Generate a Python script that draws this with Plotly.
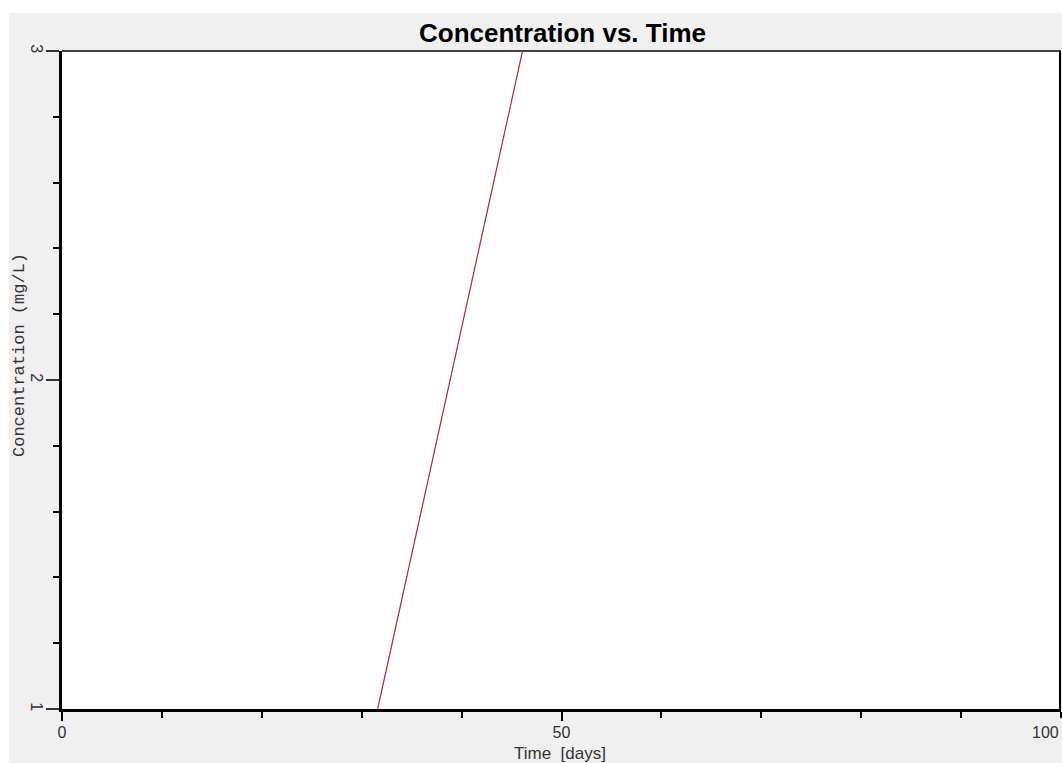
import plotly.graph_objects as go

# ---- data ----
time_days = [31.6, 46.1]
concentration = [1.0, 3.0]
x_tick_vals = [0, 50, 100]
x_tick_text = ["0", "50", "100"]
y_tick_vals = [1, 2, 3]
y_tick_text = ["1", "2", "3"]
title_text = "Concentration vs. Time"
x_title = "Time  [days]"
y_title = "Concentration (mg/L)"

W, H = 1062, 763
L, R, T, B = 62, 1, 51, 54
pw, ph = W - L - R, H - T - B

def px_to_paper_x(px):
    return (px - L) / pw

def px_to_paper_y(py):
    return (H - B - py) / ph

fig = go.Figure()
fig.add_trace(go.Scatter(
    x=time_days, y=concentration, mode="lines",
    line=dict(color="#a8283c", width=1.2), showlegend=False, hoverinfo="skip"))

tickfont = dict(family="Liberation Sans, Arial", size=16, color="#333333")

fig.update_layout(
    width=W, height=H,
    margin=dict(l=L, r=R, t=T, b=B, pad=0),
    paper_bgcolor="#f0f0f0",
    plot_bgcolor="#ffffff",
    showlegend=False,
    title=dict(text="<b>" + title_text + "</b>", x=px_to_paper_x(562.5), xref="paper",
               xanchor="center", y=1 - 33 / H, yref="container", yanchor="middle",
               font=dict(family="Liberation Sans, Arial", size=26, color="#000000")),
    xaxis=dict(range=[0, 100], tickvals=x_tick_vals[:-1], ticktext=x_tick_text[:-1],
               ticks="outside", ticklen=9, tickwidth=2, tickcolor="#000000",
               showgrid=False, zeroline=False, showline=True, linecolor="#000000",
               linewidth=3, tickfont=tickfont, ticklabelstandoff=-2,
               minor=dict(dtick=10, ticks="outside", ticklen=6, tickwidth=1.5,
                          tickcolor="#000000", showgrid=False)),
    yaxis=dict(range=[1, 3], tickvals=y_tick_vals, ticktext=y_tick_text,
               ticks="outside", ticklen=13, tickwidth=1.5, tickcolor="#333333",
               tickangle=90, ticklabelstandoff=-4,
               showgrid=False, zeroline=False, showline=True, linecolor="#000000",
               linewidth=3, tickfont=tickfont,
               minor=dict(dtick=0.2, ticks="outside", ticklen=6, tickwidth=1.5,
                          tickcolor="#000000", showgrid=False)),
    shapes=[
        # white strips at top and left of the window
        dict(type="rect", xref="paper", yref="paper", layer="below",
             x0=px_to_paper_x(-5), x1=px_to_paper_x(W + 5),
             y0=px_to_paper_y(13), y1=px_to_paper_y(-5),
             fillcolor="#ffffff", line=dict(width=0)),
        dict(type="rect", xref="paper", yref="paper", layer="below",
             x0=px_to_paper_x(-5), x1=px_to_paper_x(9),
             y0=px_to_paper_y(H + 5), y1=px_to_paper_y(-5),
             fillcolor="#ffffff", line=dict(width=0)),
        # top and right frame
        dict(type="line", xref="paper", yref="paper", x0=0, x1=1, y0=1, y1=1,
             line=dict(color="#404040", width=2)),
        dict(type="line", xref="paper", yref="paper", x0=1 - 1 / pw, x1=1 - 1 / pw, y0=0, y1=1,
             line=dict(color="#000000", width=2)),
    ],
    annotations=[
        dict(text=x_title, xref="paper", yref="paper", x=px_to_paper_x(560),
             y=px_to_paper_y(753), xanchor="center", yanchor="middle", showarrow=False,
             font=dict(family="Liberation Sans, Arial", size=17, color="#333333")),
        dict(text=y_title, xref="paper", yref="paper", x=px_to_paper_x(20),
             y=px_to_paper_y(355), xanchor="center", yanchor="middle", showarrow=False,
             textangle=-90,
             font=dict(family="Liberation Mono, Courier New", size=17, color="#333333")),
        dict(text=x_tick_text[-1], xref="x", yref="paper", x=x_tick_vals[-1],
             y=px_to_paper_y(732), xanchor="right", yanchor="middle", showarrow=False,
             font=tickfont),
    ],
)

fig.write_html("out.html", config={"displayModeBar": False},
               post_script="document.body.style.margin='0';document.body.style.overflow='hidden';")
